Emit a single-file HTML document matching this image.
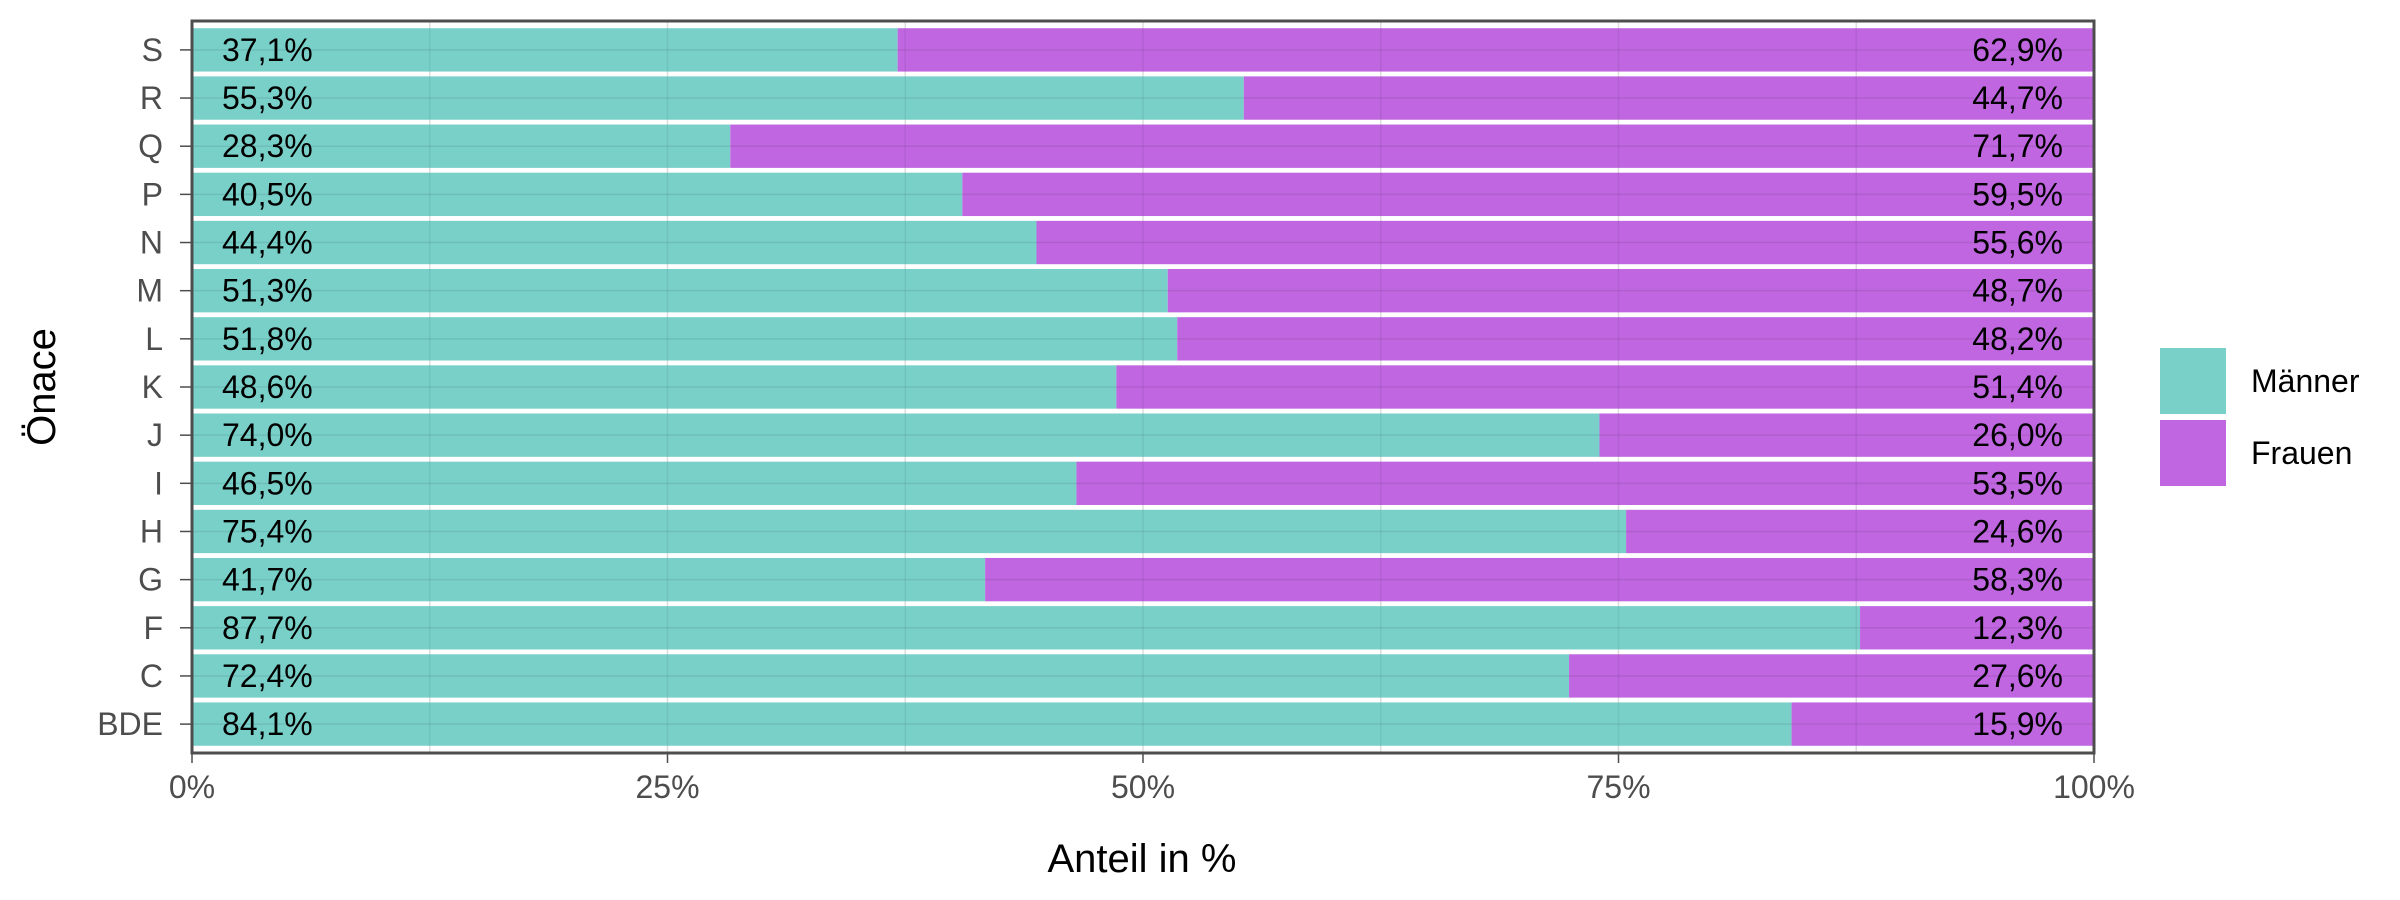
<!DOCTYPE html>
<html><head><meta charset="utf-8"><style>
body{margin:0;background:#fff}
svg{display:block;font-family:"Liberation Sans",Arial,sans-serif}
</style></head><body>
<svg id="chart" width="2400" height="900">
<g id="grid"></g>
<g id="bars"></g>
<g id="gridtop"></g>
<g id="labels"></g>
<g id="axes"></g>
<text x="1142" y="872" font-size="40" text-anchor="middle" fill="#000">Anteil in %</text>
<text transform="translate(55,387) rotate(-90)" font-size="40" text-anchor="middle" fill="#000">Önace</text>
<g>
<rect x="2160" y="348" width="66" height="66" fill="#79d0c9"/>
<text x="2251" y="392" font-size="32">Männer</text>
<rect x="2160" y="420" width="66" height="66" fill="#bf66e0"/>
<text x="2251" y="464" font-size="32">Frauen</text>
</g>
</svg>
<script>
const categories = ["S","R","Q","P","N","M","L","K","J","I","H","G","F","C","BDE"];
const maenner = [37.1,55.3,28.3,40.5,44.4,51.3,51.8,48.6,74.0,46.5,75.4,41.7,87.7,72.4,84.1];
const frauen = [62.9,44.7,71.7,59.5,55.6,48.7,48.2,51.4,26.0,53.5,24.6,58.3,12.3,27.6,15.9];
const xTicks = [0,25,50,75,100];
const xTickLabels = ["0%","25%","50%","75%","100%"];

const NS="http://www.w3.org/2000/svg";
const L=192,R=2094,T=21,B=753;
const n=categories.length;
const step=(B-T)/(n+0.2);
const x=v=>L+(v/100)*(R-L);
const y=i=>T+step*(0.6+i);
function mk(tag,parent,attrs){const e=document.createElementNS(NS,tag);for(const k in attrs)e.setAttribute(k,attrs[k]);document.getElementById(parent).appendChild(e);return e;}
function fmt(v){return v.toFixed(1).replace('.',',')+'%';}

// grid lines
[0,12.5,25,37.5,50,62.5,75,87.5,100].forEach(v=>{
  const g=mk('line','grid',{x1:x(v),x2:x(v),y1:T,y2:B,stroke:'#ebebeb','stroke-width':1.5});
  
  
});
categories.forEach((c,i)=>{
  const hb=step*0.45;
  const m=mk('rect','bars',{x:x(0),y:y(i)-hb,width:x(maenner[i])-x(0),height:hb*2,fill:'#79d0c9'});
  
  
  const f=mk('rect','bars',{x:x(maenner[i]),y:y(i)-hb,width:x(100)-x(maenner[i]),height:hb*2,fill:'#bf66e0'});
  
  
  const gl=mk('line','gridtop',{x1:L,x2:R,y1:y(i),y2:y(i),stroke:'rgba(0,0,0,0.08)','stroke-width':1.5});
  
  
  const lm=mk('text','labels',{x:222,y:y(i)+11,'font-size':32,fill:'#000'});
  lm.textContent=fmt(maenner[i]);
  
  
  const lf=mk('text','labels',{x:2063,y:y(i)+11,'font-size':32,fill:'#000','text-anchor':'end'});
  lf.textContent=fmt(frauen[i]);
  
  
  const t=mk('text','axes',{x:163,y:y(i)+11,'font-size':32,fill:'#4d4d4d','text-anchor':'end'});
  t.textContent=c;
  
  
  const tk=mk('line','axes',{x1:180,x2:L,y1:y(i),y2:y(i),stroke:'#4d4d4d','stroke-width':1.5});
  
  
});
// vertical gridlines overlay (faint)
[0,12.5,25,37.5,50,62.5,75,87.5,100].forEach(v=>{
  const g=mk('line','gridtop',{x1:x(v),x2:x(v),y1:T,y2:B,stroke:'rgba(0,0,0,0.06)','stroke-width':1.5});
  
  
});
xTicks.forEach((v,i)=>{
  const tk=mk('line','axes',{x1:x(v),x2:x(v),y1:B,y2:B+10,stroke:'#4d4d4d','stroke-width':1.5});
  
  
  const t=mk('text','axes',{x:x(v),y:798,'font-size':32,fill:'#4d4d4d','text-anchor':'middle'});
  t.textContent=xTickLabels[i];
  
  
});
const frame=mk('rect','axes',{x:L,y:T,width:R-L,height:B-T,fill:'none',stroke:'#4d4d4d','stroke-width':3});


</script>
</body></html>
